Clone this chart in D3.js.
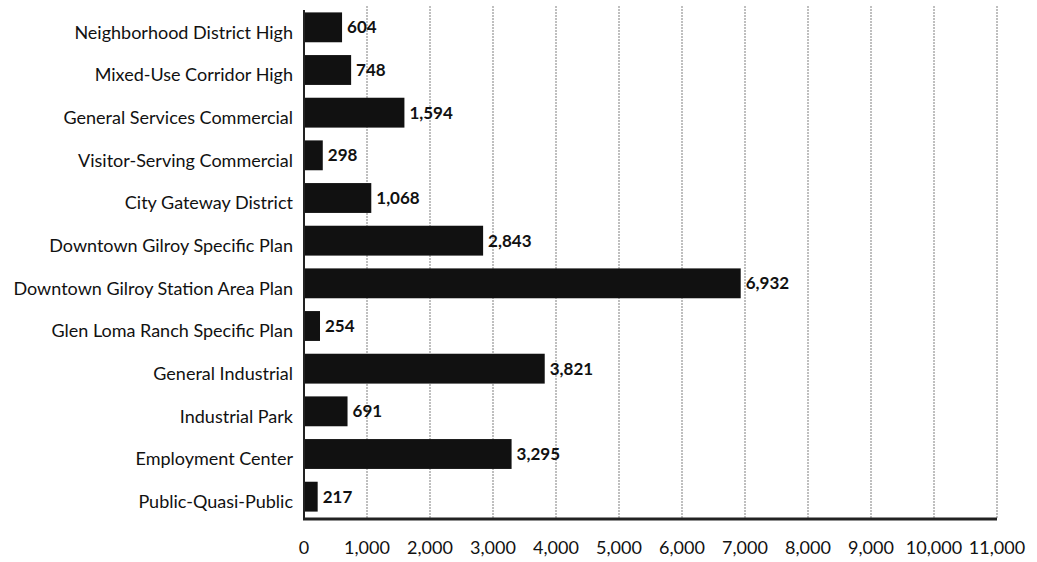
<!DOCTYPE html>
<html>
<head>
<meta charset="utf-8">
<script src="https://cdn.jsdelivr.net/npm/d3@7"></script>
<style>
  body { margin: 0; background: #fff; }
  svg text { font-family: "Lato", "Noto Sans", sans-serif; }
</style>
</head>
<body>
<div id="chart"></div>
<script>
var categories = [
    "Neighborhood District High",
    "Mixed-Use Corridor High",
    "General Services Commercial",
    "Visitor-Serving Commercial",
    "City Gateway District",
    "Downtown Gilroy Specific Plan",
    "Downtown Gilroy Station Area Plan",
    "Glen Loma Ranch Specific Plan",
    "General Industrial",
    "Industrial Park",
    "Employment Center",
    "Public-Quasi-Public"
];
var values = [604, 748, 1594, 298, 1068, 2843, 6932, 254, 3821, 691, 3295, 217];
var ticks = [0, 1000, 2000, 3000, 4000, 5000, 6000, 7000, 8000, 9000, 10000, 11000];

var width = 1037, height = 562;
var plotLeft = 304, plotRight = 997, plotTop = 6, plotBottom = 518;

var svg = d3.select("#chart").append("svg")
    .attr("width", width).attr("height", height);

var x = d3.scaleLinear().domain([0, 11000]).range([plotLeft, plotRight]);
var y = d3.scaleBand().domain(categories).range([plotTop, plotBottom]).paddingInner(0.3).paddingOuter(0.15);

var fmt = d3.format(",");

// gridlines
svg.append("g")
    .selectAll("line")
    .data(ticks.slice(1))
    .enter().append("line")
    .attr("x1", function(d) { return x(d); })
    .attr("x2", function(d) { return x(d); })
    .attr("y1", plotTop)
    .attr("y2", plotBottom)
    .attr("stroke", "#aaa")
    .attr("stroke-width", 1.5)
    .attr("stroke-dasharray", "2,1");

// bars
svg.append("g")
    .selectAll("rect")
    .data(values)
    .enter().append("rect")
    .attr("x", x(0))
    .attr("y", function(d, i) { return y(categories[i]); })
    .attr("width", function(d) { return x(d) - x(0); })
    .attr("height", y.bandwidth())
    .attr("fill", "#111");

// value labels
svg.append("g")
    .selectAll("text")
    .data(values)
    .enter().append("text")
    .attr("x", function(d) { return x(d) + 5; })
    .attr("y", function(d, i) { return y(categories[i]) + y.bandwidth() / 2; })
    .attr("dy", "0.35em")
    .attr("font-size", 17)
    .attr("font-weight", "bold")
    .attr("fill", "#111")
    .text(function(d) { return fmt(d); });

// category labels
svg.append("g")
    .selectAll("text")
    .data(categories)
    .enter().append("text")
    .attr("x", plotLeft - 11)
    .attr("y", function(d) { return y(d) + y.bandwidth() / 2 + 5; })
    .attr("dy", "0.35em")
    .attr("text-anchor", "end")
    .attr("font-size", 18)
    .attr("fill", "#111")
    .text(function(d) { return d; });

// axis lines
svg.append("line")
    .attr("x1", plotLeft).attr("x2", plotLeft)
    .attr("y1", plotTop + 4).attr("y2", plotBottom + 1)
    .attr("stroke", "#222").attr("stroke-width", 2);
svg.append("line")
    .attr("x1", plotLeft - 1).attr("x2", plotRight)
    .attr("y1", plotBottom + 1).attr("y2", plotBottom + 1)
    .attr("stroke", "#222").attr("stroke-width", 3);

// tick labels
svg.append("g")
    .selectAll("text")
    .data(ticks)
    .enter().append("text")
    .attr("x", function(d) { return x(d); })
    .attr("y", 548)
    .attr("dy", "0.35em")
    .attr("text-anchor", "middle")
    .attr("font-size", 18)
    .attr("fill", "#111")
    .text(function(d) { return fmt(d); });
</script>
</body>
</html>
